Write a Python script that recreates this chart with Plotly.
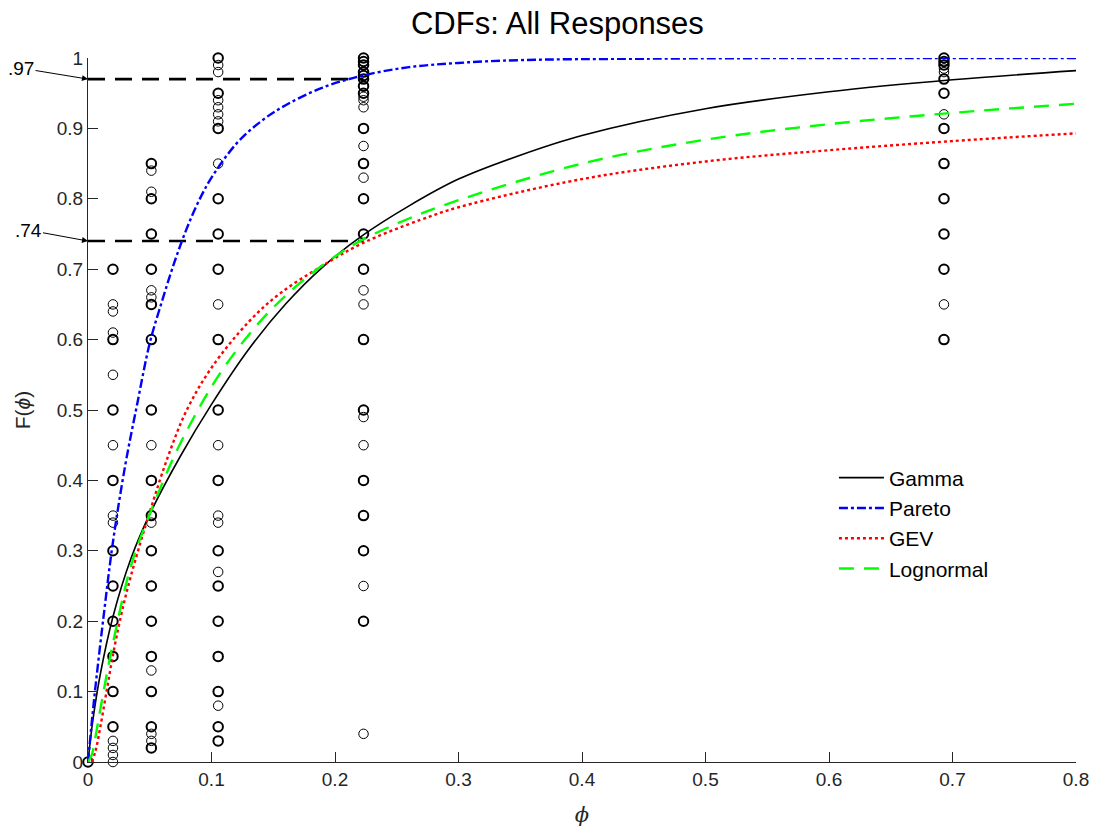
import plotly.graph_objects as go

# ---------------- data ----------------
phi_groups = [0.0, 0.0202, 0.0513, 0.1054, 0.2231, 0.6931]

col0_F = [0.0]
col0_n = [2]
col1_F = [0.7, 0.65, 0.64, 0.61, 0.6, 0.55, 0.5, 0.45, 0.4, 0.35, 0.34, 0.3, 0.25, 0.2, 0.15, 0.1, 0.05, 0.03, 0.02, 0.01, 0.0]
col1_n = [2, 1, 1, 1, 2, 1, 2, 1, 2, 1, 1, 2, 2, 2, 2, 2, 2, 1, 1, 1, 1]
col2_F = [0.85, 0.84, 0.81, 0.8, 0.75, 0.7, 0.67, 0.66, 0.65, 0.6, 0.5, 0.45, 0.4, 0.35, 0.34, 0.3, 0.25, 0.2, 0.15, 0.13, 0.1, 0.05, 0.04, 0.03, 0.02]
col2_n = [2, 1, 1, 2, 2, 2, 1, 1, 2, 2, 2, 1, 2, 2, 1, 2, 2, 2, 2, 1, 2, 2, 1, 1, 2]
col3_F = [1.0, 0.99, 0.98, 0.95, 0.94, 0.93, 0.92, 0.91, 0.9, 0.85, 0.8, 0.75, 0.7, 0.65, 0.6, 0.5, 0.45, 0.4, 0.35, 0.34, 0.3, 0.27, 0.25, 0.2, 0.15, 0.1, 0.08, 0.05, 0.03]
col3_n = [2, 1, 1, 2, 1, 1, 1, 1, 2, 1, 2, 2, 2, 1, 2, 2, 1, 2, 1, 1, 2, 1, 2, 2, 2, 2, 1, 2, 2]
col4_F = [1.0, 0.995, 0.99, 0.98, 0.975, 0.97, 0.96, 0.95, 0.945, 0.94, 0.93, 0.9, 0.875, 0.85, 0.83, 0.8, 0.75, 0.7, 0.67, 0.65, 0.6, 0.5, 0.49, 0.45, 0.4, 0.35, 0.3, 0.25, 0.2, 0.04]
col4_n = [2, 2, 2, 2, 2, 2, 2, 2, 1, 1, 1, 2, 1, 2, 1, 2, 2, 2, 1, 1, 2, 2, 1, 1, 2, 2, 2, 1, 2, 1]
col5_F = [1.0, 0.995, 0.99, 0.985, 0.98, 0.97, 0.95, 0.92, 0.9, 0.85, 0.8, 0.75, 0.7, 0.65, 0.6]
col5_n = [2, 2, 2, 1, 1, 2, 2, 1, 2, 2, 2, 2, 2, 1, 2]

gamma_x = [0, 0.004, 0.01, 0.02, 0.035, 0.05, 0.075, 0.1, 0.13, 0.16, 0.19, 0.2224, 0.26, 0.3, 0.35, 0.4, 0.5, 0.6, 0.7, 0.8]
gamma_F = [0, 0.06, 0.125, 0.205, 0.29, 0.352, 0.435, 0.508, 0.586, 0.6505, 0.703, 0.748, 0.79, 0.828, 0.862, 0.89, 0.928, 0.952, 0.969, 0.982]

pareto_x = [0, 0.005, 0.0125, 0.02, 0.03, 0.04, 0.05, 0.06, 0.07, 0.08, 0.09, 0.1, 0.12, 0.14, 0.16, 0.19, 0.2224, 0.26, 0.3, 0.35, 0.45, 0.6, 0.8]
pareto_F = [0, 0.09, 0.205, 0.31, 0.42, 0.51, 0.595, 0.655, 0.71, 0.758, 0.798, 0.83, 0.878, 0.91, 0.933, 0.958, 0.975, 0.987, 0.993, 0.997, 0.999, 1.0, 1.0]

gev_x = [0.003, 0.006, 0.01, 0.015, 0.02, 0.027, 0.035, 0.05, 0.065, 0.08, 0.1, 0.13, 0.155, 0.188, 0.2224, 0.269, 0.3, 0.4, 0.5, 0.6, 0.7, 0.8]
gev_F = [0, 0.015, 0.05, 0.1, 0.15, 0.21, 0.266, 0.355, 0.435, 0.5, 0.56, 0.625, 0.665, 0.703, 0.737, 0.77, 0.788, 0.828, 0.853, 0.869, 0.882, 0.893]

logn_x = [0, 0.003, 0.006, 0.01, 0.0192, 0.035, 0.05, 0.07, 0.09, 0.11, 0.14, 0.17, 0.2, 0.2224, 0.26, 0.3, 0.4, 0.5, 0.6, 0.7, 0.8]
logn_F = [0, 0.01, 0.035, 0.075, 0.16, 0.28, 0.352, 0.435, 0.503, 0.56, 0.627, 0.678, 0.718, 0.742, 0.772, 0.798, 0.85, 0.884, 0.906, 0.922, 0.935]

ref_levels = [0.97, 0.74]
ref_labels = [".97", ".74"]
ref_xend = 0.2231

x_ticks = [0, 0.1, 0.2, 0.3, 0.4, 0.5, 0.6, 0.7, 0.8]
x_ticktext = ["0", "0.1", "0.2", "0.3", "0.4", "0.5", "0.6", "0.7", "0.8"]
y_ticks = [0, 0.1, 0.2, 0.3, 0.4, 0.5, 0.6, 0.7, 0.8, 0.9, 1.0]
y_ticktext = ["0", "0.1", "0.2", "0.3", "0.4", "0.5", "0.6", "0.7", "0.8", "0.9", "1"]

# ---------------- figure ----------------
FONT = "Liberation Sans, Arial, Helvetica, sans-serif"
AX = "#262626"

cols_F = [col0_F, col1_F, col2_F, col3_F, col4_F, col5_F]
cols_n = [col0_n, col1_n, col2_n, col3_n, col4_n, col5_n]
pts_x, pts_y, pts_w = [], [], []
for gx, Fs, ns in zip(phi_groups, cols_F, cols_n):
    for f, n in zip(Fs, ns):
        pts_x.append(gx)
        pts_y.append(f)
        pts_w.append(1.0 if n == 1 else 2.0)

fig = go.Figure()

fig.add_trace(go.Scatter(
    x=pts_x, y=pts_y, mode="markers", showlegend=False, cliponaxis=False,
    marker=dict(symbol="circle-open", size=9.5, color="black",
                line=dict(width=pts_w, color="black")),
    hoverinfo="skip"))

for lvl in ref_levels:
    fig.add_trace(go.Scatter(
        x=[0, ref_xend], y=[lvl, lvl], mode="lines", showlegend=False,
        line=dict(color="black", width=2.6, dash="17px,10px"), hoverinfo="skip"))

fig.add_trace(go.Scatter(x=gamma_x, y=gamma_F, mode="lines", name="Gamma",
                         line=dict(color="black", width=1.6, shape="spline")))
fig.add_trace(go.Scatter(x=pareto_x, y=pareto_F, mode="lines", name="Pareto",
                         line=dict(color="#0000ff", width=2.4, dash="dashdot", shape="spline")))
fig.add_trace(go.Scatter(x=gev_x, y=gev_F, mode="lines", name="GEV",
                         line=dict(color="#ff0000", width=2.4, dash="dot", shape="spline")))
fig.add_trace(go.Scatter(x=logn_x, y=logn_F, mode="lines", name="Lognormal",
                         line=dict(color="#00ff00", width=2.4, dash="15px,10px", shape="spline")))

annos = []
for lvl, lab, axo in zip(ref_levels, ref_labels, [-67, -60]):
    annos.append(dict(x=0, y=lvl, xref="x", yref="y", text=lab, showarrow=True,
                      arrowhead=2, arrowsize=1.2, arrowwidth=1, arrowcolor="black",
                      ax=axo, ay=-11, standoff=0,
                      font=dict(family=FONT, size=19, color="black")))

fig.update_layout(
    width=1093, height=828,
    margin=dict(l=88, r=17, t=58, b=66),
    paper_bgcolor="white", plot_bgcolor="white",
    font=dict(family=FONT, size=19, color=AX),
    title=dict(text="CDFs: All Responses", x=0.51, xanchor="center", y=0.972, yanchor="middle",
               font=dict(family=FONT, size=31, color="black")),
    showlegend=True,
    legend=dict(x=0.755, y=0.4325, xanchor="left", yanchor="top", bgcolor="rgba(0,0,0,0)",
                font=dict(family=FONT, size=21, color="black"), tracegroupgap=0,
                itemwidth=45),
    annotations=annos,
)
fig.update_xaxes(range=[0, 0.8], tickvals=x_ticks, ticktext=x_ticktext, automargin=False,
                 showline=True, linecolor=AX, linewidth=1, mirror=False,
                 ticks="inside", ticklen=10, tickcolor=AX, tickwidth=1,
                 showgrid=False, zeroline=False,
                 tickfont=dict(family=FONT, size=19, color=AX),
                 title=dict(text="<i>ϕ</i>", font=dict(family="DejaVu Serif, serif", size=21, color=AX), standoff=18))
fig.update_yaxes(range=[0, 1], tickvals=y_ticks, ticktext=y_ticktext, automargin=False,
                 showline=True, linecolor=AX, linewidth=1, mirror=False,
                 ticks="inside", ticklen=10, tickcolor=AX, tickwidth=1,
                 showgrid=False, zeroline=False,
                 tickfont=dict(family=FONT, size=19, color=AX),
                 title=dict(text="F(<i>ϕ</i>)", font=dict(family=FONT, size=21, color=AX), standoff=20))

fig.write_html("out.html", config={"displayModeBar": False},
               post_script="document.body.style.margin='0px';document.body.style.overflow='hidden';")
